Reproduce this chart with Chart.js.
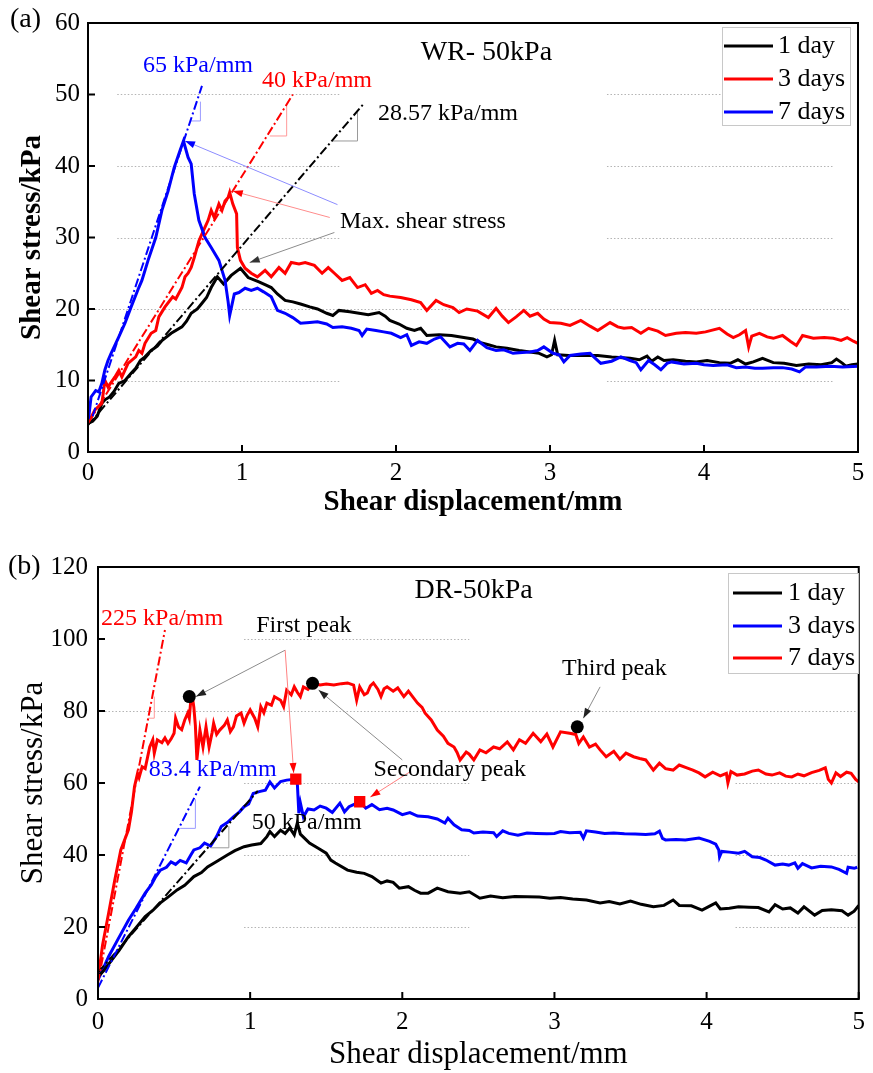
<!DOCTYPE html>
<html>
<head>
<meta charset="utf-8">
<script src="https://cdn.jsdelivr.net/npm/chart.js@4.4.1/dist/chart.umd.min.js"></script>
<style>
  body { margin: 0; background: #fff; }
  #wrap { position: relative; width: 873px; height: 1073px; }
  .panel { position: absolute; left: 0; }
</style>
</head>
<body>
<div id="wrap">
  <canvas id="chartA" class="panel" width="873" height="535" style="top:0"></canvas>
  <canvas id="chartB" class="panel" width="873" height="535" style="top:538px"></canvas>
</div>
<script>
// ==== DATA ====
const dispTicks = [0, 1, 2, 3, 4, 5];
const stressTicksA = [0, 10, 20, 30, 40, 50, 60];
const stressTicksB = [0, 20, 40, 60, 80, 100, 120];
const ageLabels = ["1 day", "3 days", "7 days"];

// (a) WR- 50kPa : [displacement mm, shear stress kPa]
const wrDay1 = [[0,4.0],[0.03,4.3],[0.06,5.0],[0.09,6.8],[0.11,7.3],[0.14,7.7],[0.17,8.5],[0.2,9.6],[0.24,10.0],[0.28,11.0],[0.31,11.7],[0.34,12.8],[0.37,13.3],[0.41,14.2],[0.45,14.8],[0.48,15.6],[0.54,16.6],[0.61,17.5],[0.64,18.3],[0.67,19.4],[0.71,20.0],[0.74,20.8],[0.77,21.6],[0.8,23.0],[0.84,24.5],[0.88,23.5],[0.93,24.7],[0.99,25.7],[1.04,24.4],[1.11,23.8],[1.16,23.3],[1.19,23.0],[1.23,22.1],[1.28,21.2],[1.33,21.0],[1.38,20.7],[1.44,20.3],[1.49,20.0],[1.55,19.4],[1.59,19.1],[1.63,19.8],[1.7,19.6],[1.76,19.4],[1.82,19.2],[1.89,19.5],[1.93,19.0],[1.96,18.4],[2.02,17.9],[2.07,17.3],[2.12,17.0],[2.16,17.3],[2.2,16.3],[2.28,16.4],[2.36,16.3],[2.44,16.0],[2.5,15.8],[2.55,15.3],[2.6,15.0],[2.65,14.7],[2.72,14.5],[2.8,14.2],[2.87,14.0],[2.93,13.8],[2.98,13.3],[3.01,13.6],[3.03,15.6],[3.05,13.6],[3.12,13.5],[3.2,13.5],[3.31,13.5],[3.4,13.3],[3.52,13.1],[3.58,12.9],[3.63,13.4],[3.66,12.7],[3.7,13.3],[3.74,12.8],[3.8,12.9],[3.88,12.7],[3.95,12.6],[4.02,12.8],[4.1,12.5],[4.17,12.4],[4.22,12.9],[4.27,12.3],[4.32,12.6],[4.38,13.1],[4.45,12.5],[4.52,12.4],[4.6,12.1],[4.68,12.3],[4.76,12.2],[4.83,12.5],[4.86,13.0],[4.9,12.4],[4.92,12.0],[4.96,12.2],[5.0,12.3]];
const wrDay3 = [[0,4.0],[0.045,5.9],[0.09,6.8],[0.11,10.0],[0.13,9.1],[0.175,10.5],[0.2,11.4],[0.22,10.5],[0.26,12.4],[0.31,13.3],[0.33,14.2],[0.35,13.8],[0.37,15.2],[0.41,16.6],[0.44,17.0],[0.46,18.9],[0.5,20.3],[0.55,21.7],[0.57,21.4],[0.61,23.0],[0.63,24.5],[0.65,25.0],[0.67,25.8],[0.69,27.2],[0.72,29.5],[0.74,30.5],[0.78,32.4],[0.8,33.8],[0.82,32.8],[0.85,34.7],[0.87,33.8],[0.89,35.1],[0.91,35.6],[0.92,36.3],[0.94,34.7],[0.965,33.3],[0.97,28.6],[0.99,26.8],[1.02,25.7],[1.06,25.0],[1.1,24.5],[1.15,25.4],[1.19,24.5],[1.24,25.8],[1.28,25.0],[1.32,26.5],[1.37,26.3],[1.41,26.5],[1.47,26.1],[1.52,25.0],[1.56,25.8],[1.6,25.0],[1.65,24.0],[1.7,24.4],[1.75,23.0],[1.8,23.4],[1.84,22.2],[1.88,22.6],[1.92,22.0],[1.96,21.8],[2.03,21.6],[2.1,21.3],[2.16,20.9],[2.2,19.8],[2.26,21.2],[2.31,20.6],[2.37,20.2],[2.41,19.5],[2.46,20.0],[2.53,19.7],[2.6,18.8],[2.65,20.1],[2.69,19.0],[2.73,18.1],[2.78,18.9],[2.83,19.8],[2.87,19.0],[2.92,19.4],[2.96,18.6],[3.0,18.1],[3.07,18.0],[3.13,17.7],[3.2,18.4],[3.26,17.6],[3.31,17.0],[3.39,18.1],[3.44,17.5],[3.48,17.3],[3.53,17.4],[3.59,16.6],[3.64,17.3],[3.7,16.9],[3.75,16.3],[3.82,16.6],[3.88,16.7],[3.95,16.6],[4.01,16.8],[4.1,17.3],[4.15,16.5],[4.19,16.0],[4.23,16.4],[4.27,17.0],[4.29,14.7],[4.31,16.2],[4.36,16.6],[4.41,16.1],[4.45,15.9],[4.51,16.3],[4.56,15.5],[4.6,14.9],[4.64,16.3],[4.71,15.9],[4.78,16.0],[4.84,15.9],[4.89,15.6],[4.93,16.0],[4.97,15.5],[5.0,15.2]];
const wrDay7 = [[0,4.0],[0.02,7.7],[0.05,8.6],[0.07,8.4],[0.09,9.6],[0.11,11.5],[0.13,12.8],[0.15,13.8],[0.2,16.1],[0.24,18.0],[0.28,20.3],[0.33,23.0],[0.35,24.0],[0.39,26.8],[0.44,30.0],[0.48,33.8],[0.52,36.5],[0.56,39.8],[0.6,42.3],[0.62,43.5],[0.65,41.2],[0.67,40.3],[0.69,36.1],[0.72,32.4],[0.76,30.0],[0.8,28.6],[0.85,26.8],[0.89,24.0],[0.91,21.0],[0.92,19.1],[0.95,22.1],[0.98,22.3],[1.02,22.9],[1.06,22.6],[1.1,22.9],[1.14,22.4],[1.19,21.7],[1.23,19.8],[1.28,19.4],[1.33,18.8],[1.38,18.0],[1.44,18.1],[1.49,18.2],[1.55,17.9],[1.59,17.4],[1.65,17.5],[1.71,17.3],[1.76,17.0],[1.78,16.3],[1.81,17.2],[1.87,17.0],[1.92,16.8],[1.97,16.6],[2.03,16.0],[2.07,16.4],[2.1,14.9],[2.15,15.4],[2.2,15.2],[2.25,15.8],[2.29,16.1],[2.35,14.7],[2.4,15.2],[2.44,15.1],[2.48,14.2],[2.53,15.6],[2.59,14.6],[2.65,14.2],[2.7,14.3],[2.76,13.8],[2.82,13.9],[2.87,14.0],[2.92,14.2],[2.96,14.7],[3.02,13.8],[3.06,13.6],[3.09,12.6],[3.13,13.5],[3.2,13.7],[3.26,13.8],[3.3,13.0],[3.33,12.4],[3.4,12.7],[3.46,13.3],[3.52,12.8],[3.56,12.5],[3.59,11.5],[3.64,12.8],[3.68,12.2],[3.72,11.5],[3.76,12.4],[3.79,12.6],[3.87,12.3],[3.95,12.4],[4.0,12.2],[4.06,12.1],[4.15,12.2],[4.21,11.8],[4.27,11.9],[4.33,11.7],[4.38,11.7],[4.45,11.8],[4.51,11.8],[4.57,11.6],[4.62,11.2],[4.66,11.9],[4.73,11.9],[4.82,12.0],[4.9,11.9],[5.0,12.0]];

// (a) initial stiffness lines and slope marks
const wrSlope1 = [[0,3.75],[1.79,48.7]];   // 28.57 kPa/mm
const wrSlope3 = [[0,4.0],[1.33,50.0]];    // 40 kPa/mm
const wrSlope7 = [[0.03,5.0],[0.74,51.2]]; // 65 kPa/mm
const wrMark1 = [[1.59,43.5],[1.75,43.5],[1.75,47.5]];
const wrMark3 = [[1.18,44.2],[1.29,44.2],[1.29,48.5]];
const wrMark7 = [[0.665,46.3],[0.73,46.3],[0.73,49.0]];

// (b) DR-50kPa
const drDay1 = [[0,6.2],[0.04,8.0],[0.09,10.8],[0.14,13.6],[0.2,17.3],[0.25,19.8],[0.31,22.9],[0.36,24.6],[0.41,26.7],[0.46,28.3],[0.52,30.3],[0.57,31.6],[0.63,34.0],[0.68,35.1],[0.72,36.7],[0.78,38.2],[0.85,40.0],[0.9,41.2],[0.96,42.3],[1.01,42.8],[1.07,43.2],[1.11,45.1],[1.13,46.5],[1.16,45.1],[1.2,46.9],[1.23,46.0],[1.26,47.5],[1.29,45.6],[1.31,48.9],[1.33,45.8],[1.39,43.3],[1.45,41.8],[1.5,40.5],[1.53,38.6],[1.56,37.8],[1.64,35.8],[1.7,35.2],[1.75,34.9],[1.8,34.0],[1.86,32.2],[1.9,32.8],[1.94,32.4],[1.98,30.8],[2.04,31.2],[2.08,30.2],[2.12,29.4],[2.17,29.4],[2.23,30.8],[2.3,29.8],[2.38,29.4],[2.44,29.8],[2.51,28.0],[2.58,28.6],[2.66,28.1],[2.74,28.5],[2.82,28.4],[2.9,28.3],[2.97,28.0],[3.04,28.2],[3.12,27.8],[3.21,27.5],[3.3,26.7],[3.36,27.1],[3.43,26.4],[3.5,27.2],[3.57,26.3],[3.65,25.6],[3.72,26.0],[3.78,27.5],[3.82,26.0],[3.9,25.9],[3.97,24.7],[4.02,25.8],[4.06,26.7],[4.09,25.0],[4.15,25.2],[4.21,25.6],[4.28,25.5],[4.34,25.4],[4.41,24.2],[4.45,26.2],[4.5,25.0],[4.55,25.3],[4.6,23.9],[4.64,25.6],[4.71,23.3],[4.76,24.6],[4.82,24.8],[4.89,24.5],[4.93,23.3],[4.97,24.4],[5.0,26.0]];
const drDay3 = [[0,5.3],[0.04,9.0],[0.07,11.8],[0.13,16.5],[0.2,21.9],[0.25,25.2],[0.31,29.4],[0.35,31.7],[0.38,34.0],[0.41,35.8],[0.45,36.6],[0.48,38.1],[0.51,37.4],[0.54,38.5],[0.58,37.8],[0.61,40.0],[0.63,41.4],[0.67,42.0],[0.7,43.3],[0.74,42.5],[0.78,45.2],[0.81,47.9],[0.85,49.0],[0.89,50.6],[0.93,52.0],[0.96,53.4],[0.99,54.2],[1.02,57.1],[1.06,57.6],[1.1,58.0],[1.13,60.3],[1.16,58.6],[1.2,60.4],[1.24,60.8],[1.3,61.1],[1.31,60.0],[1.32,51.6],[1.33,54.5],[1.35,50.6],[1.38,52.8],[1.42,52.5],[1.46,53.6],[1.5,53.0],[1.54,51.8],[1.59,54.4],[1.62,52.0],[1.65,53.4],[1.68,54.0],[1.72,54.8],[1.76,53.0],[1.8,54.0],[1.85,52.6],[1.9,53.0],[1.94,52.5],[2.0,51.2],[2.05,51.8],[2.1,50.8],[2.17,50.6],[2.23,50.0],[2.28,48.9],[2.3,50.2],[2.34,48.4],[2.39,47.0],[2.44,46.8],[2.47,46.1],[2.53,46.4],[2.6,46.2],[2.62,45.1],[2.66,46.7],[2.7,46.0],[2.76,45.5],[2.82,46.1],[2.88,46.0],[2.95,45.9],[3.0,46.0],[3.04,46.5],[3.1,46.2],[3.17,46.3],[3.19,44.7],[3.21,46.7],[3.27,46.4],[3.33,46.0],[3.39,46.1],[3.46,45.9],[3.53,45.8],[3.6,45.7],[3.66,45.9],[3.69,46.6],[3.71,44.6],[3.73,44.2],[3.8,44.3],[3.86,44.2],[3.95,44.7],[4.02,43.8],[4.06,43.0],[4.08,41.4],[4.085,39.5],[4.1,41.0],[4.15,40.8],[4.21,40.5],[4.25,41.0],[4.3,39.5],[4.35,39.3],[4.39,38.6],[4.45,37.2],[4.5,37.5],[4.54,37.2],[4.58,37.8],[4.6,36.3],[4.63,37.6],[4.69,36.4],[4.75,36.9],[4.82,36.7],[4.87,36.0],[4.92,34.9],[4.93,36.6],[4.97,36.3],[4.99,36.6]];
const drDay7 = [[0,5.5],[0.03,15.0],[0.07,23.9],[0.11,33.0],[0.15,41.4],[0.2,47.0],[0.22,52.0],[0.24,59.0],[0.26,62.7],[0.27,61.5],[0.29,64.5],[0.31,64.0],[0.34,70.0],[0.36,72.0],[0.37,68.3],[0.39,72.0],[0.42,71.2],[0.44,72.5],[0.46,71.0],[0.48,72.2],[0.5,73.8],[0.51,78.0],[0.53,75.5],[0.55,74.8],[0.57,77.5],[0.59,79.4],[0.6,78.0],[0.61,83.0],[0.62,84.0],[0.63,81.0],[0.64,76.0],[0.65,66.4],[0.67,74.7],[0.69,70.0],[0.71,75.6],[0.73,70.0],[0.75,74.0],[0.76,76.6],[0.78,73.5],[0.8,74.7],[0.83,76.0],[0.85,77.5],[0.87,74.3],[0.89,75.6],[0.91,78.6],[0.94,79.4],[0.96,76.6],[0.98,78.8],[1.0,80.3],[1.03,78.0],[1.05,75.6],[1.07,81.2],[1.09,79.5],[1.11,82.2],[1.14,81.6],[1.16,84.0],[1.2,83.0],[1.22,81.2],[1.24,85.8],[1.27,84.5],[1.29,86.7],[1.31,85.2],[1.33,84.0],[1.35,86.7],[1.38,86.0],[1.41,87.7],[1.46,87.2],[1.5,87.5],[1.55,87.2],[1.6,87.6],[1.64,87.8],[1.68,87.2],[1.7,83.0],[1.72,86.7],[1.75,84.5],[1.77,85.0],[1.79,87.0],[1.81,87.8],[1.84,86.0],[1.86,84.0],[1.88,86.2],[1.9,86.7],[1.94,85.5],[1.97,86.4],[2.01,84.0],[2.04,85.5],[2.06,84.4],[2.1,82.2],[2.13,81.0],[2.15,79.4],[2.19,77.5],[2.23,74.7],[2.27,73.0],[2.3,71.0],[2.34,70.0],[2.36,68.5],[2.38,66.4],[2.42,68.6],[2.44,68.0],[2.47,66.4],[2.51,69.2],[2.55,68.4],[2.6,70.0],[2.64,69.5],[2.69,71.4],[2.73,69.2],[2.77,72.0],[2.81,71.0],[2.86,73.8],[2.91,71.5],[2.95,73.6],[2.99,70.0],[3.04,74.2],[3.1,73.8],[3.14,73.5],[3.16,71.0],[3.19,72.8],[3.23,70.0],[3.27,70.8],[3.3,69.2],[3.34,67.3],[3.39,68.8],[3.43,66.6],[3.47,68.3],[3.52,67.3],[3.56,66.8],[3.6,66.4],[3.65,63.6],[3.69,65.5],[3.73,64.0],[3.78,63.6],[3.82,65.0],[3.87,64.2],[3.91,63.6],[3.95,62.8],[3.99,61.7],[4.04,63.0],[4.09,62.0],[4.13,62.7],[4.14,60.0],[4.16,63.2],[4.2,62.2],[4.25,62.5],[4.3,63.3],[4.34,63.6],[4.39,62.5],[4.43,62.2],[4.48,62.8],[4.52,61.9],[4.56,61.7],[4.6,62.5],[4.64,62.0],[4.69,62.9],[4.74,63.5],[4.78,64.2],[4.8,61.0],[4.82,60.0],[4.85,62.8],[4.88,61.8],[4.92,63.0],[4.95,62.7],[4.98,61.0],[5.0,60.3]];

const drSlope1 = [[0,7.4],[1.05,57.8]];    // 50 kPa/mm
const drSlope3 = [[0,3.1],[0.67,59.0]];    // 83.4 kPa/mm
const drSlope7 = [[0,4.5],[0.44,102.5]];   // 225 kPa/mm
const drMark1 = [[0.74,42.0],[0.86,42.0],[0.86,48.0]];
const drMark3 = [[0.54,47.4],[0.64,47.4],[0.64,55.5]];
const drMark7 = [[0.33,78.0],[0.37,78.0],[0.37,84.0]];
const drPeakDots = [[0.6,84.0],[1.41,87.7],[3.15,75.6]];
const drPeakSquares = [[1.3,61.1],[1.72,54.8]];

// ==== STYLE ====
const SERIF = '"Liberation Serif", "Times New Roman", serif';
const BLACK = "#000000", RED = "#ff0000", BLUE = "#0000ff";
Chart.defaults.font.family = SERIF;
Chart.defaults.color = "#000";

const pts = arr => arr.map(p => ({ x: p[0], y: p[1] }));

function curve(data, color, width) {
  return { data: pts(data), borderColor: color, backgroundColor: color, borderWidth: width || 3,
           pointRadius: 0, fill: false, tension: 0 };
}
function slopeLine(data, color) {
  const d = curve(data, color, 2);
  d.borderDash = [9, 3, 2, 3];
  return d;
}
function markers(data, style, size) {
  return { data: pts(data), showLine: false, pointStyle: style, pointRadius: size,
           pointBackgroundColor: style === "rect" ? RED : BLACK, pointBorderWidth: 0 };
}

function arrow(ctx, x1, y1, x2, y2, lineColor, headColor) {
  ctx.strokeStyle = lineColor;
  ctx.lineWidth = 1;
  ctx.setLineDash([]);
  ctx.beginPath();
  ctx.moveTo(x1, y1);
  ctx.lineTo(x2, y2);
  ctx.stroke();
  const ang = Math.atan2(y2 - y1, x2 - x1), len = 10, w = 3.5;
  const bx = x2 - len * Math.cos(ang), by = y2 - len * Math.sin(ang);
  ctx.fillStyle = headColor;
  ctx.beginPath();
  ctx.moveTo(x2, y2);
  ctx.lineTo(bx + w * Math.sin(ang), by - w * Math.cos(ang));
  ctx.lineTo(bx - w * Math.sin(ang), by + w * Math.cos(ang));
  ctx.closePath();
  ctx.fill();
}

// grid segments, frame, inward ticks, notes, arrows and legend
const decor = {
  id: "decor",
  beforeDatasetsDraw(chart, args, o) {
    const { ctx } = chart;
    const xs = chart.scales.x, ys = chart.scales.y;
    ctx.save();
    ctx.strokeStyle = "#b4b4b4";
    ctx.lineWidth = 1;
    ctx.setLineDash([1.5, 2]);
    o.grid.forEach(g => {
      const py = Math.round(ys.getPixelForValue(g[0])) + 0.5;
      ctx.beginPath();
      ctx.moveTo(xs.getPixelForValue(g[1]), py);
      ctx.lineTo(xs.getPixelForValue(g[2]), py);
      ctx.stroke();
    });
    ctx.restore();
  },
  afterDatasetsDraw(chart, args, o) {
    const { ctx, chartArea: a } = chart;
    const xs = chart.scales.x, ys = chart.scales.y;
    ctx.save();

    o.arrows.forEach(r => arrow(ctx,
      xs.getPixelForValue(r.from[0]), ys.getPixelForValue(r.from[1]),
      xs.getPixelForValue(r.to[0]), ys.getPixelForValue(r.to[1]), r.line, r.head));

    ctx.textBaseline = "middle";
    ctx.textAlign = "left";
    o.texts.forEach(t => {
      ctx.font = t.font;
      ctx.fillStyle = t.color || BLACK;
      ctx.fillText(t.text, xs.getPixelForValue(t.x), ys.getPixelForValue(t.y));
    });

    // frame + inward ticks
    ctx.setLineDash([]);
    ctx.strokeStyle = BLACK;
    ctx.lineWidth = 2;
    ctx.strokeRect(a.left, a.top, a.right - a.left, a.bottom - a.top);
    ctx.beginPath();
    xs.ticks.forEach(t => {
      const px = xs.getPixelForValue(t.value);
      ctx.moveTo(px, a.bottom);
      ctx.lineTo(px, a.bottom - 7);
    });
    ys.ticks.forEach(t => {
      const py = ys.getPixelForValue(t.value);
      ctx.moveTo(a.left, py);
      ctx.lineTo(a.left + 7, py);
    });
    ctx.stroke();

    // legend
    const L = o.legend;
    ctx.fillStyle = "#fff";
    ctx.fillRect(L.left, L.top, L.width, L.height);
    ctx.strokeStyle = "#c8c8c8";
    ctx.lineWidth = 1;
    ctx.strokeRect(L.left + 0.5, L.top + 0.5, L.width, L.height);
    ctx.font = "26px " + SERIF;
    L.colors.forEach((c, i) => {
      const y = L.top + L.rows[i];
      ctx.strokeStyle = c;
      ctx.lineWidth = 3;
      ctx.beginPath();
      ctx.moveTo(L.left + L.line[0], y);
      ctx.lineTo(L.left + L.line[1], y);
      ctx.stroke();
      ctx.fillStyle = BLACK;
      ctx.fillText(ageLabels[i], L.left + L.textX, y);
    });

    // panel label
    ctx.font = "28px " + SERIF;
    ctx.fillStyle = BLACK;
    ctx.fillText(o.panel.text, o.panel.x, o.panel.y);
    ctx.restore();
  }
};

function axes(yTicks, yMax, opt) {
  return {
    x: {
      type: "linear", min: 0, max: 5,
      afterBuildTicks: s => { s.ticks = dispTicks.map(v => ({ value: v })); },
      afterFit: s => { s.height = opt.xHeight; },
      grid: { display: false, drawTicks: false },
      border: { display: false },
      ticks: { font: { size: 25 }, padding: opt.xPad, maxRotation: 0, color: "#000" },
      title: { display: true, text: "Shear displacement/mm", color: "#000",
               font: { size: opt.titleSize, weight: opt.titleWeight }, padding: { top: 0, bottom: opt.xTitlePad } }
    },
    y: {
      type: "linear", min: 0, max: yMax,
      afterBuildTicks: s => { s.ticks = yTicks.map(v => ({ value: v })); },
      afterFit: s => { s.width = opt.yWidth; },
      grid: { display: false, drawTicks: false },
      border: { display: false },
      ticks: { font: { size: 25 }, padding: opt.yPad, color: "#000" },
      title: { display: true, text: "Shear stress/kPa", color: "#000",
               font: { size: opt.titleSize, weight: opt.titleWeight }, padding: { top: opt.yTitlePad, bottom: 0 } }
    }
  };
}

const noteFont = "24px " + SERIF;

// ==== CHART (a) ====
new Chart(document.getElementById("chartA"), {
  type: "line",
  data: {
    datasets: [
      slopeLine(wrSlope7, BLUE),
      slopeLine(wrSlope3, RED),
      slopeLine(wrSlope1, BLACK),
      curve(wrMark7, "#9a9aff", 1),
      curve(wrMark3, "#ff9a9a", 1),
      curve(wrMark1, "#9a9a9a", 1),
      curve(wrDay7, BLUE),
      curve(wrDay3, RED),
      curve(wrDay1, BLACK)
    ]
  },
  options: {
    responsive: false,
    animation: false,
    layout: { padding: { top: 22, right: 15, left: 0, bottom: 0 } },
    scales: axes(stressTicksA, 60, { xHeight: 83, yWidth: 88, xPad: 6, yPad: 8,
      titleSize: 29, titleWeight: "bold", xTitlePad: 15, yTitlePad: 15 }),
    plugins: {
      legend: { display: false },
      tooltip: { enabled: false },
      decor: {
        grid: [[50,0.19,1.64],[50,3.37,4.84],[40,0.19,1.64],[40,3.37,4.84],[30,0.19,1.64],[30,3.37,4.84],
               [20,0,4.94],[10,0.19,1.64],[10,3.37,4.84]],
        arrows: [
          { from: [1.62,34.6], to: [0.63,43.5], line: "#8c8cff", head: BLUE },
          { from: [1.57,32.8], to: [0.94,36.5], line: "#ff8c8c", head: RED },
          { from: [1.6,30.7], to: [1.05,26.5], line: "#8c8c8c", head: "#333" }
        ],
        texts: [
          { text: "65 kPa/mm", x: 0.357, y: 54.0, color: BLUE, font: noteFont },
          { text: "40 kPa/mm", x: 1.13, y: 51.9, color: RED, font: noteFont },
          { text: "28.57 kPa/mm", x: 1.883, y: 47.3, font: noteFont },
          { text: "WR- 50kPa", x: 2.16, y: 55.8, font: "28px " + SERIF },
          { text: "Max. shear stress", x: 1.636, y: 32.2, font: noteFont }
        ],
        legend: { left: 722, top: 27, width: 128, height: 98, rows: [19, 52, 85], line: [2, 51], textX: 56,
                  colors: [BLACK, RED, BLUE] },
        panel: { text: "(a)", x: 10, y: 20 }
      }
    }
  },
  plugins: [decor]
});

// ==== CHART (b) ====
new Chart(document.getElementById("chartB"), {
  type: "line",
  data: {
    datasets: [
      markers(drPeakDots, "circle", 6.5),
      markers(drPeakSquares, "rect", 8),
      slopeLine(drSlope7, RED),
      slopeLine(drSlope3, BLUE),
      slopeLine(drSlope1, BLACK),
      curve(drMark7, "#ff9a9a", 1),
      curve(drMark3, "#9a9aff", 1),
      curve(drMark1, "#9a9a9a", 1),
      curve(drDay1, BLACK),
      curve(drDay3, BLUE),
      curve(drDay7, RED)
    ]
  },
  options: {
    responsive: false,
    animation: false,
    layout: { padding: { top: 29, right: 9, left: 0, bottom: 0 } },
    scales: axes(stressTicksB, 120, { xHeight: 74, yWidth: 98, xPad: 8, yPad: 10,
      titleSize: 31, titleWeight: "normal", xTitlePad: 0, yTitlePad: 15 }),
    plugins: {
      legend: { display: false },
      tooltip: { enabled: false },
      decor: {
        grid: [[100,0.96,2.44],[100,4.19,4.99],[80,0,4.99],[60,0.96,2.44],[60,4.19,4.99],
               [40,0.96,2.44],[40,4.19,4.99],[20,0.96,2.44],[20,4.19,4.99]],
        arrows: [
          { from: [1.23,96.9], to: [0.644,84.0], line: "#8c8c8c", head: "#222" },
          { from: [1.23,96.9], to: [1.286,62.8], line: "#ff8080", head: RED },
          { from: [2.0,66.4], to: [1.45,85.8], line: "#8c8c8c", head: "#222" },
          { from: [2.05,63.1], to: [1.79,56.1], line: "#ff8080", head: RED },
          { from: [3.3,86.7], to: [3.19,78.0], line: "#8c8c8c", head: "#222" }
        ],
        texts: [
          { text: "225 kPa/mm", x: 0.02, y: 105.6, color: RED, font: noteFont },
          { text: "First peak", x: 1.04, y: 103.6, font: noteFont },
          { text: "83.4 kPa/mm", x: 0.333, y: 63.6, color: BLUE, font: noteFont },
          { text: "50 kPa/mm", x: 1.01, y: 48.9, font: noteFont },
          { text: "Secondary peak", x: 1.81, y: 63.6, font: noteFont },
          { text: "Third peak", x: 3.05, y: 91.7, font: noteFont },
          { text: "DR-50kPa", x: 2.08, y: 113.3, font: "28px " + SERIF }
        ],
        legend: { left: 728, top: 35, width: 130, height: 100, rows: [20, 53, 85], line: [5, 54], textX: 60,
                  colors: [BLACK, BLUE, RED] },
        panel: { text: "(b)", x: 8, y: 29 }
      }
    }
  },
  plugins: [decor]
});
</script>
</body>
</html>
